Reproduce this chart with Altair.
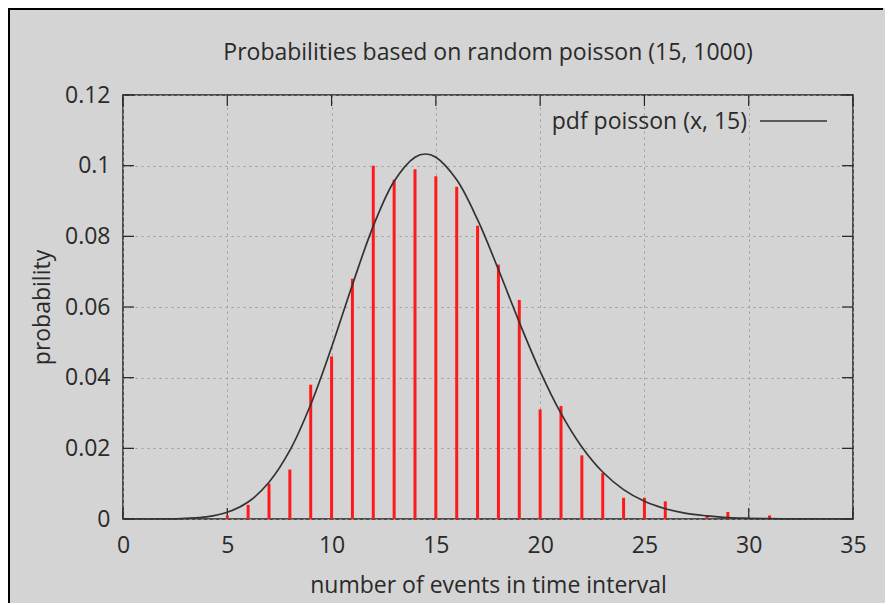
import altair as alt
import pandas as pd

# Observed relative frequencies (impulses)
events = [5, 6, 7, 8, 9, 10, 11, 12, 13, 14, 15, 16, 17, 18, 19, 20, 21, 22, 23, 24, 25, 26, 28, 29, 31]
probs = [0.001, 0.004, 0.010, 0.014, 0.038, 0.046, 0.068, 0.100, 0.096, 0.099, 0.097, 0.094,
         0.083, 0.072, 0.062, 0.031, 0.032, 0.018, 0.013, 0.006, 0.006, 0.005, 0.001, 0.002, 0.001]

# pdf curve points
curve_x = [0, 1, 2, 3, 4, 5, 6, 7, 8, 9, 10, 11, 12, 13, 14, 14.5, 15, 16, 17, 18, 19, 20,
           21, 22, 23, 24, 25, 26, 27, 28, 29, 30, 31, 32, 33, 34, 35]
curve_y = [0.0, 0.0, 0.00002, 0.0002, 0.0006, 0.0019, 0.0048, 0.0104, 0.0194, 0.0324, 0.0486,
           0.0663, 0.0829, 0.0956, 0.1024, 0.1033, 0.1024, 0.0960, 0.0847, 0.0706, 0.0557,
           0.0418, 0.0299, 0.0204, 0.0133, 0.0083, 0.0050, 0.0029, 0.0016, 0.0009, 0.0004,
           0.0002, 0.0001, 0.00004, 0.00002, 0.0, 0.0]

x_ticks = [0, 5, 10, 15, 20, 25, 30, 35]
y_ticks = [0, 0.02, 0.04, 0.06, 0.08, 0.1, 0.12]

title_text = "Probabilities based on random poisson (15, 1000)"
legend_text = "pdf poisson (x, 15)"

W, H = 730, 424
FONT = "Open Sans"
FS = 23
TXT = "#2a2a2a"

bars_df = pd.DataFrame({"x": events, "p": probs})
curve_df = pd.DataFrame({"x": curve_x, "p": curve_y})
xt_df = pd.DataFrame({"t": x_ticks})
yt_df = pd.DataFrame({"t": y_ticks})

xs = alt.Scale(domain=[0, 35], nice=False, zero=False)
ys = alt.Scale(domain=[0, 0.12], nice=False)

x_axis = alt.Axis(values=x_ticks, title="number of events in time interval", grid=True,
                  gridDash=[2, 4], gridColor="#9a9a9a", gridWidth=1,
                  ticks=False, domain=False, labelFont=FONT, labelFontSize=FS,
                  labelColor=TXT, labelPadding=15, titleFont=FONT, titleFontSize=FS,
                  titleFontWeight="normal", titleColor=TXT, titlePadding=17, labelFlush=False)
y_axis = alt.Axis(values=y_ticks, title="probability", grid=True,
                  gridDash=[2, 4], gridColor="#9a9a9a", gridWidth=1,
                  ticks=False, domain=False, labelFont=FONT, labelFontSize=FS,
                  labelColor=TXT, labelPadding=13, titleFont=FONT, titleFontSize=FS,
                  titleFontWeight="normal", titleColor=TXT, titlePadding=10,
                  labelFlush=False,
                  labelExpr="datum.value == 0 ? '0' : format(datum.value, '.2~f')")

base_grid = alt.Chart(bars_df).mark_point(opacity=0).encode(
    x=alt.X("x:Q", scale=xs, axis=x_axis),
    y=alt.Y("p:Q", scale=ys, axis=y_axis),
)

bars = alt.Chart(bars_df).mark_rule(color="#ff1a1a", strokeWidth=3).encode(
    x=alt.X("x:Q", scale=xs),
    y=alt.Y("p:Q", scale=ys),
    y2=alt.datum(0),
)

curve = alt.Chart(curve_df).mark_line(color="#333333", strokeWidth=1.7,
                                      interpolate="catmull-rom").encode(
    x=alt.X("x:Q", scale=xs),
    y=alt.Y("p:Q", scale=ys),
)

TL = 11
xt_bottom = alt.Chart(xt_df).mark_rule(color="#222222", strokeWidth=1.2).encode(
    x=alt.X("t:Q", scale=xs), y=alt.value(H), y2=alt.value(H - TL))
xt_top = alt.Chart(xt_df).mark_rule(color="#222222", strokeWidth=1.2).encode(
    x=alt.X("t:Q", scale=xs), y=alt.value(0), y2=alt.value(TL))
yt_left = alt.Chart(yt_df).mark_rule(color="#222222", strokeWidth=1.2).encode(
    y=alt.Y("t:Q", scale=ys), x=alt.value(0), x2=alt.value(TL))
yt_right = alt.Chart(yt_df).mark_rule(color="#222222", strokeWidth=1.2).encode(
    y=alt.Y("t:Q", scale=ys), x=alt.value(W), x2=alt.value(W - TL))

title_mark = alt.Chart(pd.DataFrame({"s": [title_text]})).mark_text(
    align="center", baseline="middle", font=FONT, fontSize=FS, color=TXT).encode(
    text="s:N", x=alt.value(W / 2), y=alt.value(-42))

legend_label = alt.Chart(pd.DataFrame({"s": [legend_text]})).mark_text(
    align="right", baseline="middle", font=FONT, fontSize=FS, color=TXT).encode(
    text="s:N", x=alt.value(624), y=alt.value(27))
legend_line = alt.Chart(pd.DataFrame({"s": [legend_text]})).mark_rule(
    color="#333333", strokeWidth=1.7).encode(
    x=alt.value(637), x2=alt.value(704), y=alt.value(26))

frame_top = alt.Chart(pd.DataFrame({"s": [0]})).mark_rule(color="#000000", strokeWidth=2).encode(
    x=alt.value(-115), x2=alt.value(W + 30), y=alt.value(-86))
frame_left = alt.Chart(pd.DataFrame({"s": [0]})).mark_rule(color="#000000", strokeWidth=2).encode(
    x=alt.value(-114), y=alt.value(-87), y2=alt.value(H + 84))

chart = alt.layer(
    base_grid, xt_bottom, xt_top, yt_left, yt_right, bars, curve,
    title_mark, legend_label, legend_line, frame_top, frame_left,
).properties(
    width=W, height=H,
    autosize=alt.AutoSizeParams(type="none"),
    padding={"left": 115, "top": 87, "right": 32, "bottom": 84},
    background="#d4d4d4",
).configure_view(
    stroke="#222222", strokeWidth=1.5, fill="#d4d4d4",
)

chart.save("out.html", embed_options={"renderer": "svg", "actions": False})
